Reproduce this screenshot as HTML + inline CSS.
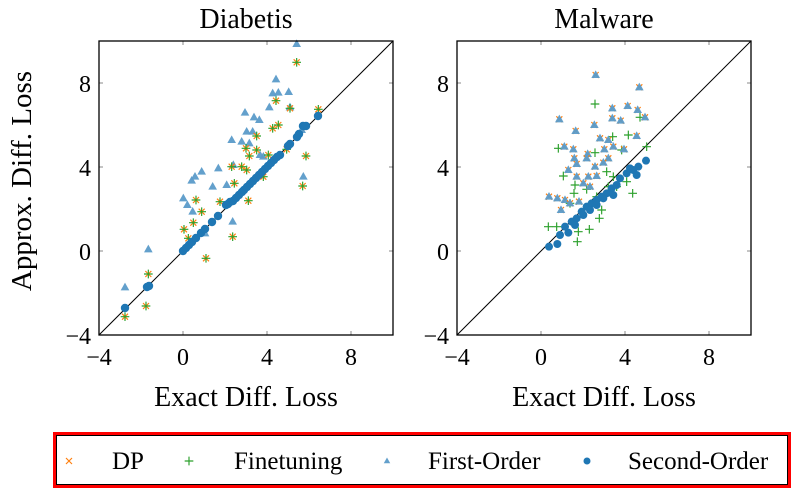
<!DOCTYPE html>
<html><head><meta charset="utf-8"><style>
body{margin:0;background:#fff;}
svg{display:block;font-family:"Liberation Serif",serif;}
</style></head><body>
<svg width="800" height="491" viewBox="0 0 800 491" xmlns="http://www.w3.org/2000/svg">
<defs>
<g id="c"><circle r="12" fill="#1f77b4"/></g>
<g id="t"><path d="M0,-14 L13,9 L-13,9 Z" fill="#5b9bc9" opacity="0.95"/></g>
<g id="x"><path d="M-9,-9 L9,9 M-9,9 L9,-9" stroke="#ff7f0e" stroke-width="3.5"/></g>
<g id="p"><path d="M-13,0 L13,0 M0,-13 L0,13" stroke="#2ca02c" stroke-width="3.5"/></g>
<g id="s"><use href="#x"/><use href="#p"/></g>
<g id="tx"><use href="#x"/><use href="#t"/></g>
<g id="cc"><circle r="4.2" fill="#1f77b4"/></g>
</defs>
<rect width="800" height="491" fill="#fff"/>

<!-- Plot 1 -->
<text x="246" y="28" font-size="28" text-anchor="middle">Diabetis</text>
<g stroke="#888" stroke-width="1">
<path d="M183,41v4M267,41v4M351,41v4M183,335v-4M267,335v-4M351,335v-4M99,83h4M99,167h4M99,251h4M393,83h-4M393,167h-4M393,251h-4"/>
</g>
<g font-size="24" text-anchor="middle">
<text x="99" y="365">−4</text><text x="183" y="365">0</text><text x="267" y="365">4</text><text x="351" y="365">8</text>
</g>
<g font-size="24" text-anchor="end">
<text x="91" y="92">8</text><text x="91" y="176">4</text><text x="91" y="260">0</text><text x="91" y="344">−4</text>
</g>
<text x="246" y="406" font-size="28" text-anchor="middle">Exact Diff. Loss</text>
<text transform="translate(31,181) rotate(-90)" font-size="29" text-anchor="middle">Approx. Diff. Loss</text>
<line x1="99" y1="335" x2="393" y2="41" stroke="#000" stroke-width="1"/>
<g transform="translate(90,30) scale(0.33333)">
<use href="#t" x="620" y="42"/><use href="#t" x="558" y="148"/><use href="#t" x="548" y="190"/><use href="#t" x="565" y="188"/><use href="#t" x="596" y="186"/><use href="#t" x="538" y="232"/><use href="#t" x="600" y="232"/><use href="#t" x="465" y="248"/><use href="#t" x="492" y="262"/><use href="#t" x="508" y="270"/><use href="#t" x="470" y="305"/><use href="#t" x="488" y="305"/><use href="#t" x="425" y="330"/><use href="#t" x="455" y="335"/><use href="#t" x="478" y="340"/><use href="#t" x="510" y="375"/><use href="#t" x="385" y="415"/><use href="#t" x="335" y="425"/><use href="#t" x="315" y="440"/><use href="#t" x="305" y="452"/><use href="#t" x="430" y="405"/><use href="#t" x="410" y="465"/><use href="#t" x="368" y="470"/><use href="#t" x="280" y="505"/><use href="#t" x="292" y="525"/><use href="#t" x="308" y="545"/><use href="#t" x="428" y="575"/><use href="#t" x="345" y="610"/><use href="#t" x="175" y="658"/><use href="#t" x="105" y="772"/><use href="#t" x="640" y="440"/><use href="#t" x="635" y="300"/><use href="#t" x="520" y="380"/>
<use href="#s" x="620" y="97"/><use href="#s" x="558" y="212"/><use href="#s" x="600" y="235"/><use href="#s" x="685" y="238"/><use href="#s" x="548" y="295"/><use href="#s" x="565" y="285"/><use href="#s" x="500" y="318"/><use href="#s" x="468" y="355"/><use href="#s" x="500" y="360"/><use href="#s" x="478" y="378"/><use href="#s" x="535" y="375"/><use href="#s" x="648" y="378"/><use href="#s" x="425" y="410"/><use href="#s" x="455" y="410"/><use href="#s" x="470" y="420"/><use href="#s" x="520" y="440"/><use href="#s" x="433" y="460"/><use href="#s" x="318" y="510"/><use href="#s" x="390" y="515"/><use href="#s" x="475" y="512"/><use href="#s" x="335" y="545"/><use href="#s" x="310" y="578"/><use href="#s" x="282" y="598"/><use href="#s" x="295" y="625"/><use href="#s" x="428" y="620"/><use href="#s" x="348" y="685"/><use href="#s" x="175" y="732"/><use href="#s" x="168" y="828"/><use href="#s" x="105" y="860"/><use href="#s" x="638" y="468"/><use href="#s" x="590" y="358"/>
</g>
<g>
<use href="#cc" x="125" y="308"/><use href="#cc" x="147" y="287"/><use href="#cc" x="149" y="286"/><use href="#cc" x="183" y="251"/><use href="#cc" x="186" y="248"/><use href="#cc" x="189" y="245"/><use href="#cc" x="192" y="242"/><use href="#cc" x="196" y="238"/><use href="#cc" x="201" y="233"/><use href="#cc" x="205" y="229"/><use href="#cc" x="212" y="222"/><use href="#cc" x="218" y="216"/><use href="#cc" x="226" y="205"/><use href="#cc" x="228" y="204"/><use href="#cc" x="230" y="202"/><use href="#cc" x="233" y="201"/><use href="#cc" x="236" y="198"/><use href="#cc" x="239" y="195"/><use href="#cc" x="242" y="192"/><use href="#cc" x="244" y="190"/><use href="#cc" x="247" y="187"/><use href="#cc" x="250" y="184"/><use href="#cc" x="253" y="181"/><use href="#cc" x="256" y="178"/><use href="#cc" x="259" y="175"/><use href="#cc" x="262" y="172"/><use href="#cc" x="265" y="169"/><use href="#cc" x="268" y="166"/><use href="#cc" x="271" y="163"/><use href="#cc" x="274" y="160"/><use href="#cc" x="277" y="157"/><use href="#cc" x="280" y="155"/><use href="#cc" x="288" y="146"/><use href="#cc" x="290" y="144"/><use href="#cc" x="297" y="137"/><use href="#cc" x="299" y="134"/><use href="#cc" x="303" y="126"/><use href="#cc" x="306" y="126"/><use href="#cc" x="318" y="116"/>
</g>
<rect x="99" y="41" width="294" height="294" fill="none" stroke="#000" stroke-width="1.3"/>

<!-- Plot 2 -->
<text x="604" y="28" font-size="28" text-anchor="middle">Malware</text>
<g stroke="#888" stroke-width="1">
<path d="M541,41v4M625,41v4M709,41v4M541,335v-4M625,335v-4M709,335v-4M457,83h4M457,167h4M457,251h4M751,83h-4M751,167h-4M751,251h-4"/>
</g>
<g font-size="24" text-anchor="middle">
<text x="457" y="365">−4</text><text x="541" y="365">0</text><text x="625" y="365">4</text><text x="709" y="365">8</text>
</g>
<g font-size="24" text-anchor="end">
<text x="449" y="92">8</text><text x="449" y="176">4</text><text x="449" y="260">0</text><text x="449" y="344">−4</text>
</g>
<text x="604" y="406" font-size="28" text-anchor="middle">Exact Diff. Loss</text>
<line x1="457" y1="335" x2="751" y2="41" stroke="#000" stroke-width="1"/>
<g transform="translate(450,30) scale(0.33333)">
<use href="#p" x="435" y="222"/><use href="#p" x="488" y="320"/><use href="#p" x="535" y="315"/><use href="#p" x="570" y="262"/><use href="#p" x="590" y="350"/><use href="#p" x="325" y="355"/><use href="#p" x="435" y="368"/><use href="#p" x="515" y="360"/><use href="#p" x="340" y="438"/><use href="#p" x="470" y="425"/><use href="#p" x="490" y="440"/><use href="#p" x="375" y="465"/><use href="#p" x="372" y="490"/><use href="#p" x="410" y="478"/><use href="#p" x="530" y="455"/><use href="#p" x="548" y="490"/><use href="#p" x="455" y="540"/><use href="#p" x="448" y="565"/><use href="#p" x="418" y="598"/><use href="#p" x="382" y="635"/><use href="#p" x="385" y="605"/><use href="#p" x="295" y="590"/><use href="#p" x="320" y="590"/><use href="#p" x="360" y="520"/><use href="#p" x="475" y="470"/><use href="#p" x="500" y="470"/><use href="#p" x="440" y="500"/>
<use href="#tx" x="437" y="135"/><use href="#tx" x="568" y="172"/><use href="#tx" x="487" y="235"/><use href="#tx" x="533" y="228"/><use href="#tx" x="563" y="240"/><use href="#tx" x="487" y="265"/><use href="#tx" x="512" y="272"/><use href="#tx" x="585" y="262"/><use href="#tx" x="328" y="268"/><use href="#tx" x="433" y="285"/><use href="#tx" x="377" y="303"/><use href="#tx" x="450" y="325"/><use href="#tx" x="475" y="330"/><use href="#tx" x="560" y="318"/><use href="#tx" x="343" y="350"/><use href="#tx" x="370" y="358"/><use href="#tx" x="413" y="372"/><use href="#tx" x="373" y="385"/><use href="#tx" x="463" y="358"/><use href="#tx" x="490" y="350"/><use href="#tx" x="522" y="358"/><use href="#tx" x="475" y="385"/><use href="#tx" x="380" y="402"/><use href="#tx" x="410" y="385"/><use href="#tx" x="435" y="410"/><use href="#tx" x="460" y="398"/><use href="#tx" x="355" y="420"/><use href="#tx" x="380" y="440"/><use href="#tx" x="415" y="440"/><use href="#tx" x="440" y="438"/><use href="#tx" x="400" y="460"/><use href="#tx" x="420" y="470"/><use href="#tx" x="297" y="500"/><use href="#tx" x="322" y="505"/><use href="#tx" x="345" y="510"/><use href="#tx" x="333" y="540"/><use href="#tx" x="387" y="515"/><use href="#tx" x="360" y="520"/>
<use href="#c" x="297" y="650"/><use href="#c" x="322" y="642"/><use href="#c" x="330" y="615"/><use href="#c" x="355" y="608"/><use href="#c" x="345" y="590"/><use href="#c" x="365" y="575"/><use href="#c" x="380" y="565"/><use href="#c" x="395" y="545"/><use href="#c" x="410" y="530"/><use href="#c" x="425" y="520"/><use href="#c" x="440" y="510"/><use href="#c" x="455" y="500"/><use href="#c" x="470" y="490"/><use href="#c" x="485" y="475"/><use href="#c" x="490" y="495"/><use href="#c" x="500" y="465"/><use href="#c" x="510" y="445"/><use href="#c" x="530" y="430"/><use href="#c" x="540" y="415"/><use href="#c" x="560" y="435"/><use href="#c" x="565" y="410"/><use href="#c" x="588" y="392"/><use href="#c" x="420" y="540"/><use href="#c" x="375" y="585"/><use href="#c" x="440" y="525"/><use href="#c" x="400" y="555"/><use href="#c" x="460" y="505"/><use href="#c" x="550" y="420"/>
</g>
<rect x="457" y="41" width="294" height="294" fill="none" stroke="#000" stroke-width="1.3"/>

<!-- Legend -->
<rect x="54.5" y="433.5" width="735" height="53" fill="#fff" stroke="#f00" stroke-width="3"/>
<rect x="56.5" y="435.5" width="731" height="49" fill="none" stroke="#000" stroke-width="1"/>
<g transform="translate(69,461) scale(0.33333)"><use href="#x"/></g>
<text x="112" y="469" font-size="25">DP</text>
<g transform="translate(189,461) scale(0.33333)"><use href="#p"/></g>
<text x="234" y="469" font-size="25">Finetuning</text>
<g transform="translate(387,461) scale(0.25)"><use href="#t"/></g>
<text x="428" y="469" font-size="25">First-Order</text>
<circle cx="587" cy="461" r="3.5" fill="#1f77b4"/>
<text x="628" y="469" font-size="25">Second-Order</text>
</svg>
</body></html>
